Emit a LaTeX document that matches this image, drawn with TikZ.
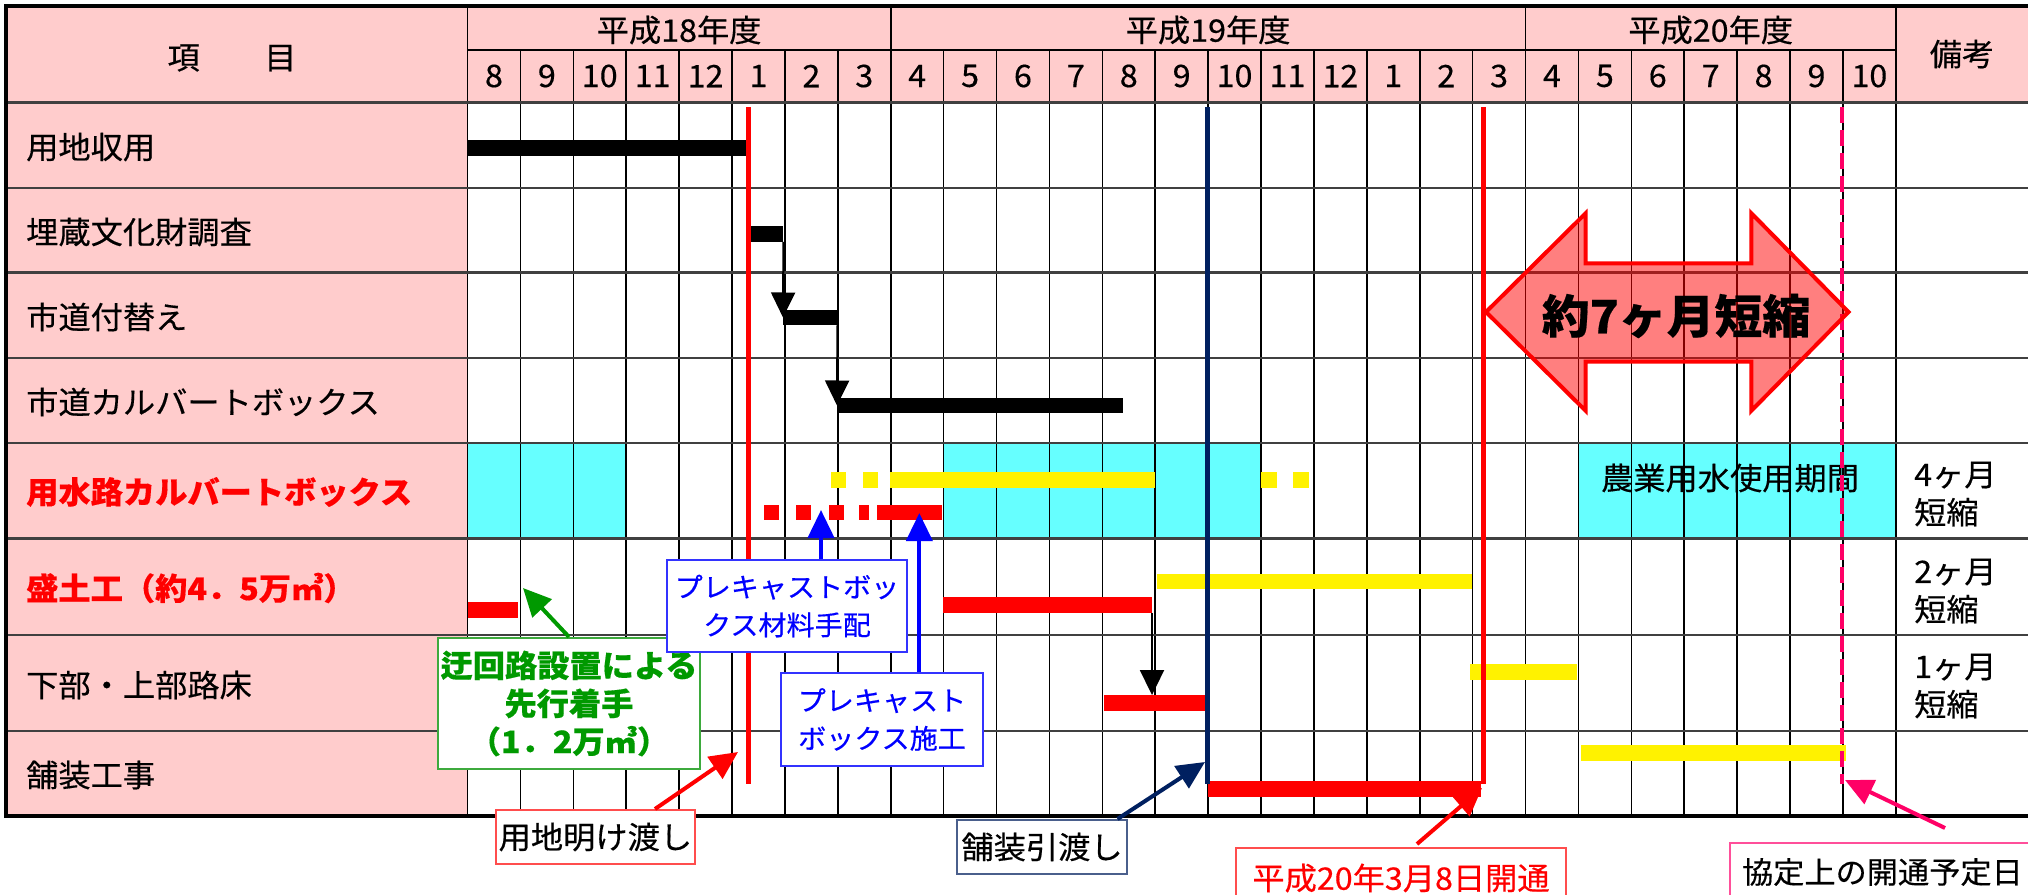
\documentclass[tikz,border=0pt]{standalone}
\usepackage{fontspec}
\setmainfont{Noto Sans CJK JP}[FakeStretch=1.04, FakeBold=0.4]
\usetikzlibrary{arrows.meta}
\definecolor{hdrpink}{HTML}{FFCCCC}
\definecolor{water}{HTML}{66FFFF}
\definecolor{navy}{HTML}{002060}
\definecolor{deeppink}{HTML}{FF0066}
\definecolor{leafgreen}{HTML}{009900}
\definecolor{greenedge}{HTML}{3DAA3D}
\definecolor{blueedge}{HTML}{3333FF}
\definecolor{rededge}{HTML}{FF4D4D}
\definecolor{navyedge}{HTML}{4A5F8C}
\definecolor{pinkedge}{HTML}{FF4F9A}

\begin{document}
\begin{tikzpicture}[x=1pt, y=-1pt,
  every node/.style={font=\fontsize{31}{38}\selectfont, inner sep=0pt},
  item/.style={anchor=west},
  redbold/.style={anchor=west, red, font=\fontsize{31}{38}\selectfont\bfseries},
  colline/.style={line width=1.6pt},
  rowline/.style={line width=2.4pt, black!75},
  bar/.style={anchor=west, minimum height=15.5pt},
  flow/.style={line width=2pt, -{Triangle[length=25pt, width=24pt]}},
  callarrow/.style={line width=4pt, -{Triangle[length=28pt, width=26pt]}},
  callbox/.style={draw, fill=white, line width=2pt, align=center}]
\useasboundingbox (0,0) rectangle (2028,894);
\fill[white] (0,0) rectangle (2028,894);
% table background
\fill[hdrpink] (6,6) rectangle (467.5,816);
\fill[hdrpink] (467.5,6) rectangle (2028,102.3);
\fill[water] (467.5,442.7) rectangle (626.2,538.3);
\fill[water] (943.6,442.7) rectangle (1261,538.3);
\fill[water] (1578.4,442.7) rectangle (1895.8,538.3);
% grid
\foreach \i in {1,...,26}
  \draw[colline] ({467.5+52.9*\i},50) -- ({467.5+52.9*\i},816);
\foreach \i in {0,8,20,27}
  \draw[colline] ({467.5+52.9*\i},6) -- ({467.5+52.9*\i},816);
\draw[colline] (467.5,50) -- (1895.8,50);
\foreach \y in {102.3,187.7,272.3,357.7,442.7,538.3,635,731}
  \draw[rowline] (6,\y) -- (2028,\y);
\draw[line width=3.5pt] (2028,6) -- (6,6) -- (6,816) -- (2028,816);

\node (koumoku) at (232,58) {項　　目};
\node (h18) at (679.1,30) {平成18年度};
\node (h19) at (1208.1,30) {平成19年度};
\node (h20) at (1710.7,30) {平成20年度};
\node (bikou) at (1962,54) {備考};
\foreach \m [count=\i from 0] in {8,9,10,11,12,1,2,3,4,5,6,7,8,9,10,11,12,1,2,3,4,5,6,7,8,9,10}
  \node (m\i) at ({467.5+52.9*(\i+0.5)},76) {\m};

\node[item] (item1) at (26,147) {用地収用};
\node[item] (item2) at (26,232) {埋蔵文化財調査};
\node[item] (item3) at (26,317) {市道付替え};
\node[item] (item4) at (26,402) {市道カルバートボックス};
\node[redbold] (item5) at (26,492) {用水路カルバートボックス};
\node[redbold] (item6) at (26,588) {盛土工（約4．5万㎥）};
\node[item] (item7) at (26,685) {下部・上部路床};
\node[item] (item8) at (26,775) {舗装工事};

% bars
\node[bar, fill=black, minimum width=278.5] (bar1) at (467.5,148) {};
\node[bar, fill=black, minimum width=35] (bar2) at (748,234) {};
\node[bar, fill=black, minimum width=54] (bar3) at (783,317.5) {};
\node[bar, fill=black, minimum width=286] (bar4) at (837,405.5) {};
\draw[flow] (bar2.south east) -- (bar3.west);
\draw[flow] (bar3.south east) -- (bar4.west);
\foreach \x/\w in {830.5/15.3,863/15,890/264.3,1261/15.7,1293/16}
  \node[bar, fill=yellow, minimum width=\w] at (\x,479.8) {};
\foreach \x/\w in {764/15,796/15,829/15,859/10}
  \node[bar, fill=red, minimum width=\w] at (\x,512.5) {};
\node[bar, fill=red, minimum width=65] (kou5) at (876.5,512.5) {};
\node[bar, fill=red, minimum width=50] (dk6) at (468,610) {};
\node[bar, fill=red, minimum width=209] (bar6) at (942.6,605) {};
\node[bar, fill=yellow, minimum width=315] (mo6) at (1157,581.5) {};
\node[bar, fill=red, minimum width=101] (bar7) at (1104,703) {};
\node[bar, fill=yellow, minimum width=106.7] (ro7) at (1470,672) {};
\draw[flow] (bar6.south east) -- (bar6.south east |- bar7.north);
\node[bar, fill=red, minimum width=273.5] (bar8) at (1207.5,789) {};
\node[bar, fill=yellow, minimum width=264.8] (ho8) at (1581,753) {};

\node (nougyou) at (1730,478) {農業用水使用期間};
\node[anchor=west, align=left] (biko5) at (1914,494) {4ヶ月\\短縮};
\node[anchor=west, align=left] (biko6) at (1914,591) {2ヶ月\\短縮};
\node[anchor=west, align=left] (biko7) at (1914,686) {1ヶ月\\短縮};

% milestones
\draw[line width=5pt, red] (748,107) -- (748,784);
\draw[line width=5pt, navy] (1207.5,107) -- (1207.5,784);
\draw[line width=5pt, red] (1483,107) -- (1483,784);
\draw[line width=4.5pt, deeppink, dash pattern=on 16pt off 7pt] (1842,107) -- (1842,784);

\filldraw[draw=red, fill=red, fill opacity=0.5, line width=4pt] (1486,312) -- (1585.6,213.3) -- (1585.6,263.3) -- (1751.4,263.3) -- (1751.4,213.3) -- (1848.5,312) -- (1751.4,410.7) -- (1751.4,361.7) -- (1585.6,361.7) -- (1585.6,410.7) -- cycle;
\node[font=\fontsize{46}{50}\selectfont\bfseries] (tanshuku) at (1676,316) {約7ヶ月短縮};

% callouts
\node[callbox, draw=greenedge, text=leafgreen, font=\fontsize{31}{38}\selectfont\bfseries, minimum width=262, minimum height=131] (ukairo) at (569,703.5) {迂回路設置による\\先行着手\\（1．2万㎥）};
\node[callbox, draw=blueedge, text=blue, font=\fontsize{27}{38}\selectfont, minimum width=240, minimum height=92] (zairyo) at (787,606) {プレキャストボッ\\クス材料手配};
\node[callbox, draw=blueedge, text=blue, font=\fontsize{27}{38}\selectfont, minimum width=202, minimum height=93] (sekou) at (882,719.5) {プレキャスト\\ボックス施工};
\node[callbox, draw=rededge, minimum width=199, minimum height=54] (akewatashi) at (595.4,837) {用地明け渡し};
\node[callbox, draw=navyedge, minimum width=170, minimum height=54] (hikiwatashi) at (1042,847) {舗装引渡し};
\node[callbox, draw=rededge, text=red, minimum width=330, minimum height=60] (kaitsu) at (1401,878) {平成20年3月8日開通};
\node[callbox, draw=pinkedge, anchor=west, inner xsep=12pt, font=\fontsize{30}{38}\selectfont, minimum height=58] (yoteibi) at (1729,872) {協定上の開通予定日};

\coordinate (ukaitip) at (523,588);
\coordinate (zairyotip) at (821,510);
\coordinate (sekoutip) at (919.3,513);
\coordinate (aketip) at (738,752);
\coordinate (hikitip) at (1205,762);
\coordinate (kaitip) at (1482,788);
\coordinate (yoteitip) at (1845,780);
\draw[callarrow, leafgreen] (ukairo.north) -- (ukaitip);
\draw[callarrow, blue] ([xshift=34pt]zairyo.north) -- (zairyotip);
\draw[callarrow, blue] ([xshift=37.3pt]sekou.north) -- (sekoutip);
\draw[callarrow, red] ([xshift=59.6pt]akewatashi.north) -- (aketip);
\draw[callarrow, navy] ([xshift=75.5pt]hikiwatashi.north) -- (hikitip);
\draw[callarrow, red] ([xshift=16pt,yshift=3pt]kaitsu.north) -- (kaitip);
\draw[callarrow, deeppink] ([xshift=216pt,yshift=14pt]yoteibi.north west) -- (yoteitip);
\end{tikzpicture}
\end{document}
